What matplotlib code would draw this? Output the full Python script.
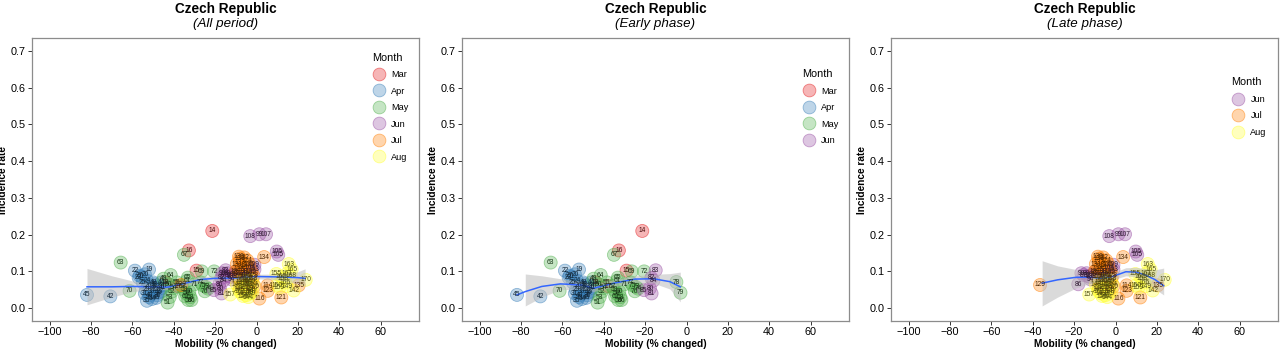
import matplotlib.pyplot as plt
import numpy as np
from matplotlib.colors import to_rgb
from matplotlib.lines import Line2D

plt.rcParams['font.family'] = ['Liberation Sans', 'DejaVu Sans']

month_names = ['Mar', 'Apr', 'May', 'Jun', 'Jul', 'Aug']
month_first_day = [14, 19, 49, 80, 110, 141]
month_colors = ['#E41A1C', '#377EB8', '#4DAF4A', '#984EA3', '#FF7F00', '#FFFF33']

# day index (label), mobility (% changed), incidence rate
days = list(range(14, 171))
mobility = [
    # Mar 14-18
    -21.4, -29.0, -32.7, -38.0, -44.0,
    # Apr 19-48
    -52.0, -54.0, -55.5, -58.8, -57.0, -53.0, -55.0, -52.5, -56.5, -50.0,
    -53.5, -51.0, -54.0, -49.0, -52.0, -50.5, -53.0, -48.0, -46.5, -49.5,
    -47.0, -51.5, -45.5, -70.7, -48.5, -46.0, -82.0, -47.5, -44.5, -50.0,
    # May 49-79
    -45.0, -42.5, -43.0, -41.0, -42.0, -40.0, -38.5, -34.0, -36.0, -33.0,
    -35.0, -32.5, -33.5, -34.5, -65.7, -41.5, -33.2, -31.5, -35.1, -32.0,
    -26.5, -61.4, -30.0, -20.5, -24.5, -23.5, -26.0, -25.0, -27.0, -4.9,
    -2.9,
    # Jun 80-109
    -17.7, -16.9, -17.0, -14.9, -16.0, -20.6, -18.0, -15.5, -14.0, -12.5,
    -16.5, -11.0, -13.5, -10.0, -12.0, -9.5, -7.0, -8.5, -6.0, 1.4,
    -5.0, -4.0, -2.5, -1.0, -3.0, 10.5, 9.8, 4.6, -3.0, -1.0,
    # Jul 110-140
    -6.0, -4.0, -8.0, -2.0, 5.4, -5.5, 1.4, -7.5, -3.0, -9.0,
    -1.0, 12.0, -6.5, 5.4, -4.5, -8.5, -2.5, -5.0, -1.5, -36.5,
    -7.0, -9.5, -6.0, -8.0, 3.7, 20.4, -3.5, -10.0, -8.0, -8.5,
    -3.0,
    # Aug 141-170
    -5.0, 18.0, -7.0, -4.0, -8.5, -6.0, -2.0, -9.5, 14.7, 10.0,
    -3.5, -7.5, -5.5, -1.5, 9.6, -6.5, -12.7, 13.0, 11.0, -4.5,
    15.0, 12.0, 15.6, -2.5, 17.0, 14.0, -8.0, 16.5, -3.0, 23.8,
]
incidence = [
    # Mar
    0.210, 0.102, 0.157, 0.060, 0.070,
    # Apr
    0.105, 0.092, 0.086, 0.102, 0.083, 0.075, 0.070, 0.062, 0.088, 0.058,
    0.050, 0.045, 0.040, 0.052, 0.030, 0.025, 0.020, 0.035, 0.045, 0.065,
    0.060, 0.035, 0.055, 0.032, 0.028, 0.070, 0.036, 0.042, 0.062, 0.070,
    # May
    0.080, 0.065, 0.015, 0.045, 0.030, 0.055, 0.070, 0.040, 0.060, 0.022,
    0.050, 0.045, 0.075, 0.032, 0.124, 0.090, 0.083, 0.022, 0.145, 0.030,
    0.100, 0.047, 0.065, 0.100, 0.058, 0.053, 0.062, 0.046, 0.070, 0.071,
    0.042,
    # Jun
    0.054, 0.040, 0.082, 0.103, 0.075, 0.049, 0.065, 0.090, 0.095, 0.085,
    0.095, 0.092, 0.088, 0.098, 0.078, 0.085, 0.090, 0.095, 0.100, 0.201,
    0.088, 0.092, 0.098, 0.105, 0.110, 0.145, 0.154, 0.201, 0.196, 0.118,
    # Jul
    0.075, 0.065, 0.055, 0.080, 0.062, 0.045, 0.026, 0.070, 0.050, 0.085,
    0.060, 0.029, 0.095, 0.047, 0.130, 0.105, 0.100, 0.115, 0.088, 0.063,
    0.110, 0.120, 0.138, 0.125, 0.139, 0.062, 0.120, 0.100, 0.135, 0.140,
    0.072,
    # Aug
    0.035, 0.048, 0.040, 0.030, 0.050, 0.060, 0.045, 0.065, 0.060, 0.062,
    0.055, 0.075, 0.068, 0.065, 0.093, 0.033, 0.037, 0.080, 0.055, 0.082,
    0.095, 0.085, 0.120, 0.075, 0.105, 0.070, 0.045, 0.088, 0.040, 0.077,
]

# loess fits
all_fit_x = [-82, -70, -60, -50, -43, -35, -27, -20, -10, 0, 10, 20, 23.5]
all_fit_y = [0.058, 0.058, 0.059, 0.058, 0.057, 0.067, 0.078, 0.081, 0.082, 0.086, 0.085, 0.083, 0.081]
all_fit_lo = [0.009, 0.030, 0.045, 0.051, 0.050, 0.058, 0.070, 0.074, 0.076, 0.080, 0.077, 0.067, 0.060]
all_fit_hi = [0.108, 0.088, 0.074, 0.065, 0.064, 0.076, 0.086, 0.088, 0.088, 0.092, 0.093, 0.099, 0.107]

early_fit_x = [-82, -78, -70, -61, -51, -45, -35, -25, -16, -8, -3]
early_fit_y = [0.036, 0.045, 0.059, 0.066, 0.063, 0.054, 0.068, 0.079, 0.080, 0.072, 0.058]
early_band_x = [-78, -70, -61, -51, -45, -35, -25, -16, -8, -3]
early_fit_lo = [0.006, 0.030, 0.050, 0.052, 0.045, 0.058, 0.070, 0.068, 0.052, 0.017]
early_fit_hi = [0.093, 0.088, 0.080, 0.073, 0.063, 0.078, 0.088, 0.092, 0.094, 0.098]

late_fit_x = [-35.5, -28, -19, -12, -7, -2, 5, 10, 14, 19, 23.3]
late_fit_y = [0.068, 0.077, 0.084, 0.084, 0.081, 0.085, 0.099, 0.098, 0.091, 0.078, 0.061]
late_fit_lo = [0.006, 0.030, 0.055, 0.068, 0.072, 0.076, 0.088, 0.085, 0.073, 0.052, 0.036]
late_fit_hi = [0.129, 0.115, 0.105, 0.095, 0.090, 0.094, 0.110, 0.111, 0.108, 0.104, 0.109]

panels = [
    ('(All period)', 14, 170, all_fit_x, all_fit_y, all_fit_x, all_fit_lo, all_fit_hi),
    ('(Early phase)', 14, 85, early_fit_x, early_fit_y, early_band_x, early_fit_lo, early_fit_hi),
    ('(Late phase)', 86, 170, late_fit_x, late_fit_y, late_fit_x, late_fit_lo, late_fit_hi),
]
panel_left = [32, 462, 891]


def month_of(day):
    idx = 0
    for i, first in enumerate(month_first_day):
        if day >= first:
            idx = i
    return idx


def dark(color):
    r, g, b = to_rgb(color)
    return (r * 0.3, g * 0.3, b * 0.3)


fig = plt.figure(figsize=(12.8, 3.49), dpi=100)
W, H = 1280, 349

for (subtitle, d0, d1, fx, fy, bx, blo, bhi), left in zip(panels, panel_left):
    ax = fig.add_axes([left / W, 1 - 321 / H, 387 / W, 283 / H])
    sel = [i for i, d in enumerate(days) if d0 <= d <= d1]
    xs = [mobility[i] for i in sel]
    ys = [incidence[i] for i in sel]
    ms = [month_of(days[i]) for i in sel]
    face = [to_rgb(month_colors[m]) + (0.32,) for m in ms]
    edge = [to_rgb(month_colors[m]) + (0.5,) for m in ms]
    ax.scatter(xs, ys, s=88, c=face, edgecolors=edge, linewidths=0.6, zorder=2)
    ax.fill_between(bx, blo, bhi, color='#BDBDBD', alpha=0.55, linewidth=0, zorder=3)
    ax.plot(fx, fy, color='#3366FF', linewidth=1.1, zorder=4)
    for x, y, m, i in zip(xs, ys, ms, sel):
        ax.text(x, y, str(days[i]), fontsize=4.8, color=dark(month_colors[m]),
                ha='center', va='center', zorder=5)

    ax.set_xlim(-108.6, 78.6)
    ax.set_ylim(-0.035, 0.735)
    ax.set_xticks([-100, -80, -60, -40, -20, 0, 20, 40, 60])
    ax.set_xticklabels(['\u2212100', '\u221280', '\u221260', '\u221240', '\u221220',
                        '0', '20', '40', '60'])
    ax.set_yticks([0.0, 0.1, 0.2, 0.3, 0.4, 0.5, 0.6, 0.7])
    ax.tick_params(labelsize=7.8, length=3, width=0.7, color='#333333', pad=1.5)
    for sp in ax.spines.values():
        sp.set_color('#8C8C8C')
        sp.set_linewidth(0.9)
    ax.set_xlabel('Mobility (% changed)', fontsize=7.3, fontweight='bold', labelpad=1)
    ax.set_ylabel('Incidence rate', fontsize=7.3, fontweight='bold')
    ax.yaxis.set_label_coords(-0.062, 0.5)

    cx = (left + 193.5) / W
    fig.text(cx, 1 - 9 / H, 'Czech Republic', fontsize=9.8, fontweight='bold',
             ha='center', va='center')
    fig.text(cx, 1 - 24.5 / H, subtitle, fontsize=9.6, style='italic',
             ha='center', va='center')

    present = sorted(set(ms))
    handles = [Line2D([], [], marker='o', linestyle='', markersize=9.2,
                      markerfacecolor=to_rgb(month_colors[m]) + (0.32,),
                      markeredgecolor=to_rgb(month_colors[m]) + (0.5,),
                      markeredgewidth=0.6) for m in present]
    ax.legend(handles, [month_names[m] for m in present], title='Month',
              loc='center', bbox_to_anchor=(0.925, 0.756), frameon=False,
              fontsize=6.6, title_fontsize=7.8, labelspacing=0.82,
              handletextpad=0.5, handlelength=1.6, alignment='left')

fig.savefig('out.png', dpi=100)
